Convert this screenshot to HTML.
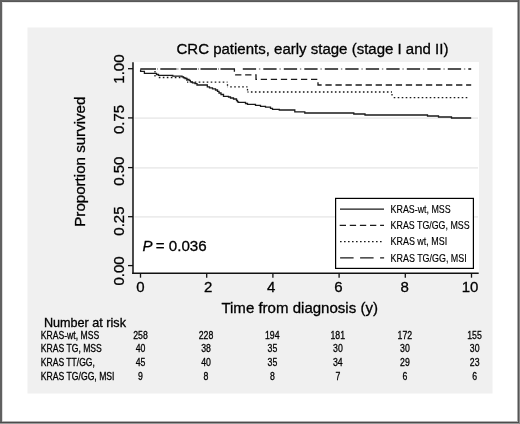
<!DOCTYPE html>
<html><head><meta charset="utf-8"><style>
html,body{margin:0;padding:0;background:#fff;}
body{width:520px;height:424px;overflow:hidden;}
svg{display:block;filter:grayscale(1);}
text{font-family:"Liberation Sans",sans-serif;stroke:#000;stroke-width:0.3px;}
</style></head><body>
<svg width="520" height="424" viewBox="0 0 520 424">
<rect x="0" y="0" width="520" height="424" fill="#fff"/>
<g shape-rendering="crispEdges">
<rect x="0" y="0" width="520" height="1" fill="#646464"/>
<rect x="0" y="1" width="520" height="1" fill="#575757"/>
<rect x="0" y="2" width="520" height="1" fill="#e8e8e8"/>
<rect x="0" y="0" width="2" height="424" fill="#606060"/>
<rect x="2" y="3" width="1" height="418" fill="#dcdcdc"/>
<rect x="517" y="2" width="1" height="420" fill="#a8a8a8"/>
<rect x="518" y="0" width="1" height="424" fill="#555"/>
<rect x="519" y="0" width="1" height="424" fill="#8a8a8a"/>
<rect x="2" y="421" width="516" height="1" fill="#b0b0b0"/>
<rect x="0" y="422" width="519" height="1" fill="#4c4c4c"/>
<rect x="0" y="423" width="519" height="1" fill="#999"/>
</g>
<rect x="27.5" y="27.5" width="465" height="366" fill="#f0f0f0"/>
<rect x="133" y="62" width="346" height="211" fill="#fff"/>
<line x1="134.5" x2="478" y1="118.1" y2="118.1" stroke="#ececec" stroke-width="1.6"/>
<line x1="134.5" x2="478" y1="167.9" y2="167.9" stroke="#ececec" stroke-width="1.6"/>
<line x1="134.5" x2="478" y1="216.9" y2="216.9" stroke="#ececec" stroke-width="1.6"/>
<line x1="133" x2="133" y1="62.3" y2="274.05" stroke="#111" stroke-width="1.5"/>
<line x1="132.25" x2="478.7" y1="273.3" y2="273.3" stroke="#111" stroke-width="1.5"/>
<line x1="128" x2="133" y1="68.7" y2="68.7" stroke="#111" stroke-width="1.3"/>
<line x1="128" x2="133" y1="117.9" y2="117.9" stroke="#111" stroke-width="1.3"/>
<line x1="128" x2="133" y1="167.6" y2="167.6" stroke="#111" stroke-width="1.3"/>
<line x1="128" x2="133" y1="216.7" y2="216.7" stroke="#111" stroke-width="1.3"/>
<line x1="128" x2="133" y1="265.6" y2="265.6" stroke="#111" stroke-width="1.3"/>
<line x1="140.50" x2="140.50" y1="273.3" y2="277.7" stroke="#111" stroke-width="1.3"/>
<line x1="206.70" x2="206.70" y1="273.3" y2="277.7" stroke="#111" stroke-width="1.3"/>
<line x1="272.90" x2="272.90" y1="273.3" y2="277.7" stroke="#111" stroke-width="1.3"/>
<line x1="339.10" x2="339.10" y1="273.3" y2="277.7" stroke="#111" stroke-width="1.3"/>
<line x1="405.30" x2="405.30" y1="273.3" y2="277.7" stroke="#111" stroke-width="1.3"/>
<line x1="471.50" x2="471.50" y1="273.3" y2="277.7" stroke="#111" stroke-width="1.3"/>
<path d="M140.6,69.6 V71.4 H144.4 V73.3 H156.5 V74.5 H158.5 V75.4 H172.8 V76.1 H182 V76.8 H183.5 V77.6 H185 V78.5 H187 V79.3 H189 V80.4 H190.3 V81.8 H192.5 V82.8 H195 V83.6 H197 V85.0 H207.3 V86.8 H209.5 V87.8 H212.5 V88.9 H215.5 V90.0 H217.5 V91.4 H219 V93.0 H221 V94.5 H223.5 V96.3 H228.5 V97.0 H230.5 V98.0 H233.5 V99.0 H236.5 V100.5 H237.5 V101.8 H238.5 V102.4 H245.5 V103.5 H247.5 V104.4 H255.5 V105.3 H260.5 V106.3 H265.5 V107.2 H270.5 V108.3 H272.5 V109.3 H279.3 V110.0 H294.8 V111.8 H304.8 V113.0 H353.8 V114.0 H365 V115.0 H427.5 V116.0 H438.5 V117.0 H451.5 V118.0 H471.2" fill="none" stroke="#1a1a1a" stroke-width="1.3"/>
<path d="M234.4,68.9 V74.8 H256 V79.3 H318 V85.0 H471.2" fill="none" stroke="#1a1a1a" stroke-width="1.3" stroke-dasharray="6.3 3.75" stroke-dashoffset="3.45"/>
<line x1="155" x2="155" y1="68.9" y2="77.5" stroke="#1a1a1a" stroke-width="1.3" stroke-dasharray="1.6 2.4" stroke-dashoffset="2"/>
<line x1="158.8" x2="187" y1="77.5" y2="77.5" stroke="#1a1a1a" stroke-width="1.3" stroke-dasharray="1.6 2.4" stroke-dashoffset="0.00"/>
<line x1="187" x2="187" y1="77.5" y2="82.2" stroke="#1a1a1a" stroke-width="1.3" stroke-dasharray="1.6 2.4" stroke-dashoffset="2"/>
<line x1="187" x2="227.5" y1="82.2" y2="82.2" stroke="#1a1a1a" stroke-width="1.3" stroke-dasharray="1.6 2.4" stroke-dashoffset="0.30"/>
<line x1="227.5" x2="227.5" y1="82.2" y2="86.9" stroke="#1a1a1a" stroke-width="1.3" stroke-dasharray="1.6 2.4" stroke-dashoffset="2"/>
<line x1="227.5" x2="247.5" y1="86.9" y2="86.9" stroke="#1a1a1a" stroke-width="1.3" stroke-dasharray="1.6 2.4" stroke-dashoffset="1.30"/>
<line x1="247.5" x2="247.5" y1="86.9" y2="92.0" stroke="#1a1a1a" stroke-width="1.3" stroke-dasharray="1.6 2.4" stroke-dashoffset="2"/>
<line x1="247.5" x2="392" y1="92.0" y2="92.0" stroke="#1a1a1a" stroke-width="1.3" stroke-dasharray="1.6 2.4" stroke-dashoffset="0.60"/>
<line x1="392" x2="392" y1="92.0" y2="97.7" stroke="#1a1a1a" stroke-width="1.3" stroke-dasharray="1.6 2.4" stroke-dashoffset="2"/>
<line x1="392" x2="468" y1="97.7" y2="97.7" stroke="#1a1a1a" stroke-width="1.3" stroke-dasharray="1.6 2.4" stroke-dashoffset="2.30"/>
<path d="M140.3,69H156.0 M160.3,69H176.5 M180.8,69H197.0 M200.5,69H217.0 M220.5,69H235.0" fill="none" stroke="#1a1a1a" stroke-width="1.3"/>
<path d="M157.0,69H157.9 M177.4,69H178.4 M197.9,69H198.9 M218.0,69H219.0" fill="none" stroke="#8a8a8a" stroke-width="1.3"/>
<path d="M242.8,69H471.2" fill="none" stroke="#1a1a1a" stroke-width="1.3" stroke-dasharray="13.3 7.2" stroke-dashoffset="0"/>
<path d="M242.8,69H466" fill="none" stroke="#8a8a8a" stroke-width="1.3" stroke-dasharray="1.4 19.1" stroke-dashoffset="-16.1"/>
<rect x="335.6" y="198.4" width="137.8" height="70" fill="#fff" stroke="#000" stroke-width="1.2"/>
<line x1="340" x2="384" y1="209.2" y2="209.2" stroke="#1a1a1a" stroke-width="1.3"/>
<line x1="339.7" x2="384" y1="225.4" y2="225.4" stroke="#1a1a1a" stroke-width="1.3" stroke-dasharray="6.3 3.8"/>
<line x1="340" x2="382" y1="241.6" y2="241.6" stroke="#1a1a1a" stroke-width="1.3" stroke-dasharray="1.6 2.4"/>
<line x1="340.1" x2="384.1" y1="257.8" y2="257.8" stroke="#1a1a1a" stroke-width="1.3" stroke-dasharray="13.5 6.5"/>
<text transform="translate(390.59,212.70) scale(0.8887,1)" font-size="10" style="stroke-width:0.15px;" fill="#000" >KRAS-wt, MSS</text>
<text transform="translate(390.59,228.70) scale(0.8852,1)" font-size="10" style="stroke-width:0.15px;" fill="#000" >KRAS TG/GG, MSS</text>
<text transform="translate(390.58,245.40) scale(0.8945,1)" font-size="10" style="stroke-width:0.15px;" fill="#000" >KRAS wt, MSI</text>
<text transform="translate(390.59,261.90) scale(0.8918,1)" font-size="10" style="stroke-width:0.15px;" fill="#000" >KRAS TG/GG, MSI</text>
<text transform="translate(176.45,53.90) scale(1.0012,1)" font-size="15" style="" fill="#000" >CRC patients, early stage (stage I and II)</text>
<text transform="translate(84.80,226.71) rotate(-90) scale(1.0075,1)" font-size="15">Proportion survived</text>
<text transform="translate(123.70,83.69) rotate(-90)" font-size="15">1.00</text>
<text transform="translate(123.70,133.99) rotate(-90)" font-size="15">0.75</text>
<text transform="translate(123.70,185.82) rotate(-90)" font-size="15">0.50</text>
<text transform="translate(123.70,235.69) rotate(-90)" font-size="15">0.25</text>
<text transform="translate(123.70,285.62) rotate(-90)" font-size="15">0.00</text>
<text transform="translate(136.20,291.50)" font-size="15" style="" fill="#000" >0</text>
<text transform="translate(203.94,291.50)" font-size="15" style="" fill="#000" >2</text>
<text transform="translate(266.91,291.50)" font-size="15" style="" fill="#000" >4</text>
<text transform="translate(334.36,291.50)" font-size="15" style="" fill="#000" >6</text>
<text transform="translate(400.50,291.50)" font-size="15" style="" fill="#000" >8</text>
<text transform="translate(461.77,291.50)" font-size="15" style="" fill="#000" >10</text>
<text transform="translate(221.40,312.90) scale(1.0027,1)" font-size="15" style="" fill="#000" >Time from diagnosis (y)</text>
<text transform="translate(142.55,250.80)" font-size="15" style="font-style:italic;" fill="#000" >P</text>
<text transform="translate(155.74,250.80) scale(1.0097,1)" font-size="15" style="" fill="#000" >= 0.036</text>
<text transform="translate(43.89,326.60) scale(1.0527,1)" font-size="12" style="" fill="#000" >Number at risk</text>
<text transform="translate(40.81,338.50) scale(0.7625,1)" font-size="11.3" style="" fill="#000" >KRAS-wt, MSS</text>
<text transform="translate(133.17,338.50) scale(0.7750,1)" font-size="11.3" style="" fill="#000" >258</text>
<text transform="translate(198.67,338.50) scale(0.7750,1)" font-size="11.3" style="" fill="#000" >228</text>
<text transform="translate(264.91,338.50) scale(0.7750,1)" font-size="11.3" style="" fill="#000" >194</text>
<text transform="translate(330.48,338.50) scale(0.7750,1)" font-size="11.3" style="" fill="#000" >181</text>
<text transform="translate(397.60,338.50) scale(0.7750,1)" font-size="11.3" style="" fill="#000" >172</text>
<text transform="translate(467.26,338.50) scale(0.7750,1)" font-size="11.3" style="" fill="#000" >155</text>
<text transform="translate(40.81,352.30) scale(0.7623,1)" font-size="11.3" style="" fill="#000" >KRAS TG, MSS</text>
<text transform="translate(135.71,352.30) scale(0.7750,1)" font-size="11.3" style="" fill="#000" >40</text>
<text transform="translate(201.14,352.30) scale(0.7750,1)" font-size="11.3" style="" fill="#000" >38</text>
<text transform="translate(267.54,352.30) scale(0.7750,1)" font-size="11.3" style="" fill="#000" >35</text>
<text transform="translate(333.02,352.30) scale(0.7750,1)" font-size="11.3" style="" fill="#000" >30</text>
<text transform="translate(400.12,352.30) scale(0.7750,1)" font-size="11.3" style="" fill="#000" >30</text>
<text transform="translate(469.82,352.30) scale(0.7750,1)" font-size="11.3" style="" fill="#000" >30</text>
<text transform="translate(40.81,366.00) scale(0.7583,1)" font-size="11.3" style="" fill="#000" >KRAS TT/GG,</text>
<text transform="translate(135.73,366.00) scale(0.7750,1)" font-size="11.3" style="" fill="#000" >45</text>
<text transform="translate(201.21,366.00) scale(0.7750,1)" font-size="11.3" style="" fill="#000" >40</text>
<text transform="translate(267.54,366.00) scale(0.7750,1)" font-size="11.3" style="" fill="#000" >35</text>
<text transform="translate(333.00,366.00) scale(0.7750,1)" font-size="11.3" style="" fill="#000" >34</text>
<text transform="translate(400.12,366.00) scale(0.7750,1)" font-size="11.3" style="" fill="#000" >29</text>
<text transform="translate(469.80,366.00) scale(0.7750,1)" font-size="11.3" style="" fill="#000" >23</text>
<text transform="translate(40.81,379.90) scale(0.7649,1)" font-size="11.3" style="" fill="#000" >KRAS TG/GG, MSI</text>
<text transform="translate(138.07,379.90) scale(0.7750,1)" font-size="11.3" style="" fill="#000" >9</text>
<text transform="translate(203.55,379.90) scale(0.7750,1)" font-size="11.3" style="" fill="#000" >8</text>
<text transform="translate(269.95,379.90) scale(0.7750,1)" font-size="11.3" style="" fill="#000" >8</text>
<text transform="translate(335.47,379.90) scale(0.7750,1)" font-size="11.3" style="" fill="#000" >7</text>
<text transform="translate(402.53,379.90) scale(0.7750,1)" font-size="11.3" style="" fill="#000" >6</text>
<text transform="translate(472.23,379.90) scale(0.7750,1)" font-size="11.3" style="" fill="#000" >6</text>
</svg>
</body></html>
